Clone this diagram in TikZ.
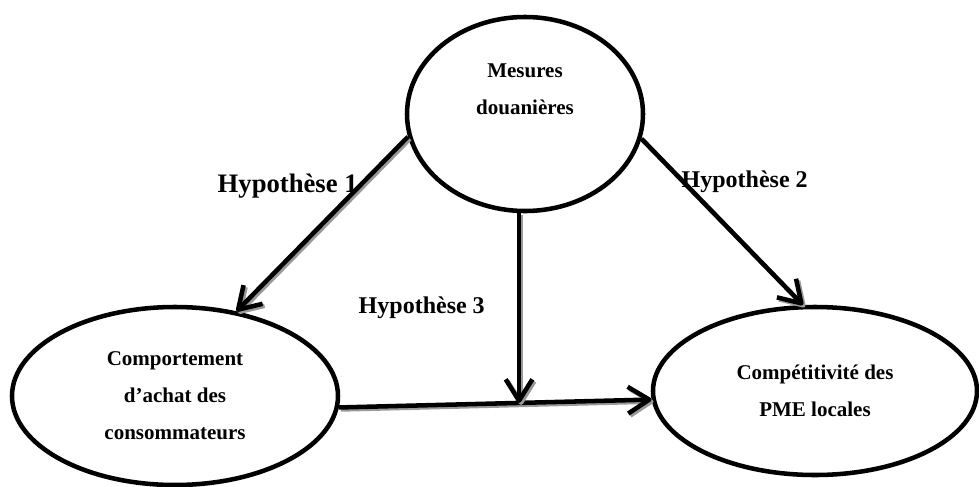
\documentclass[tikz,border=0pt]{standalone}
\usepackage{fontspec}
\setmainfont{Liberation Serif}
\usetikzlibrary{shapes.geometric,arrows.meta,calc}

\begin{document}
\begin{tikzpicture}[x=0.75pt,y=-0.75pt,-{Straight Barb[length=16pt,width=20pt,line join=round]},line width=3.4pt,
	main node/.style={ellipse,draw,inner sep=0pt,align=center,font=\bfseries\fontsize{15.75}{27.75}\selectfont},
	hyp node/.style={inner sep=0pt,font=\bfseries\fontsize{18}{20}\selectfont},
	hyp edge/.style={preaction={draw=black!40,transform canvas={shift={(1.5pt,-1.5pt)}}}}]
				
				\useasboundingbox (0,0) rectangle (979,486);
				
				\node[main node,minimum width=177pt,minimum height=145.5pt] (1) at (525,114) {};
				\node[align=center,font=\bfseries\fontsize{15.75}{27.75}\selectfont] (1t) at (525,89) {Mesures\\douanières};
				\node[main node,minimum width=244.5pt,minimum height=133.5pt] (2) at (175,396) {Comportement\\d’achat des\\consommateurs};
				\node[main node,minimum width=243pt,minimum height=126pt] (3) at (815,391) {Compétitivité des\\PME locales};
				
				\coordinate (m) at ($(2.356)!0.576!(3.183)$);
				
				\path (1.191) edge[hyp edge] node[hyp node,pos=0.28,anchor=east,font=\bfseries\fontsize{20}{22}\selectfont] (h1) {Hypothèse 1} (2.54);
				\path (1.348) edge[hyp edge] node[hyp node,pos=0.26,anchor=west,xshift=-3pt] (h2) {Hypothèse 2} (3.98);
				\path (2.356) edge[hyp edge] (3.183);
				\path (1.south -| m) edge[hyp edge] node[hyp node,pos=0.5,anchor=east,xshift=-24pt] (h3) {Hypothèse 3} (m);
				
				\end{tikzpicture}
\end{document}
